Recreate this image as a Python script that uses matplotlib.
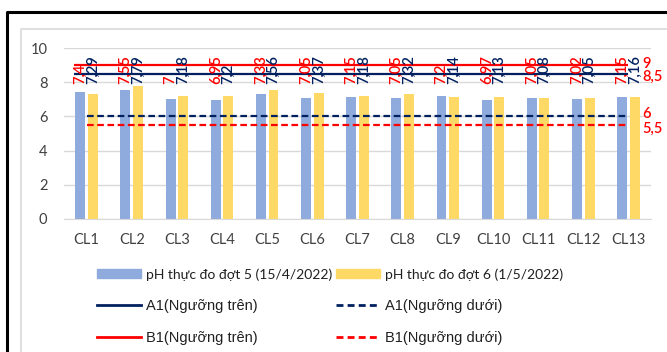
import matplotlib

matplotlib.use("Agg")
import matplotlib.pyplot as plt
import numpy as np
from matplotlib.lines import Line2D
from matplotlib.patches import Patch

plt.rcParams["font.family"] = ["Lato", "DejaVu Sans"]

# pH measurements per sampling point
stations = ["CL1", "CL2", "CL3", "CL4", "CL5", "CL6", "CL7",
            "CL8", "CL9", "CL10", "CL11", "CL12", "CL13"]
ph_round5 = [7.4, 7.55, 7.0, 6.95, 7.33, 7.05, 7.15, 7.05, 7.2, 6.97, 7.05, 7.02, 7.15]
ph_round6 = [7.29, 7.79, 7.18, 7.2, 7.56, 7.37, 7.18, 7.32, 7.14, 7.13, 7.08, 7.05, 7.16]

# regulatory limits (QCVN column A1 / B1)
a1_upper = 8.5
a1_lower = 6.0
b1_upper = 9.0
b1_lower = 5.5

label_round5 = "pH thực đo đợt 5 (15/4/2022)"
label_round6 = "pH thực đo đợt 6 (1/5/2022)"
label_a1_upper = "A1(Ngưỡng trên)"
label_a1_lower = "A1(Ngưỡng dưới)"
label_b1_upper = "B1(Ngưỡng trên)"
label_b1_lower = "B1(Ngưỡng dưới)"

BLUE = "#8FAADC"
YELLOW = "#FFD966"
NAVY = "#002060"
RED = "#FF0000"
GRID = "#D9D9D9"
TEXT = "#404040"


def fmt(v):
    return f"{v:g}".replace(".", ",")


fig = plt.figure(figsize=(6.67, 3.52), dpi=100)
ax = fig.add_axes([64 / 667, 1 - 219 / 352, 587 / 667, 171 / 352])

x = np.arange(len(stations))
bw = 0.22
off = 0.14
ax.bar(x - off, ph_round5, width=bw, color=BLUE, zorder=2)
ax.bar(x + off, ph_round6, width=bw, color=YELLOW, zorder=2)

# threshold lines across all stations
ax.hlines(b1_upper, -0.27, x[-1], color=RED, lw=1.6, zorder=3)
ax.hlines(a1_upper, -0.27, x[-1], color=NAVY, lw=1.6, zorder=3)
ax.plot(x, [a1_lower] * len(x), color=NAVY, lw=1.6, dashes=(3, 1.6), zorder=3)
ax.plot(x, [b1_lower] * len(x), color=RED, lw=1.6, dashes=(3, 1.6), zorder=3)

# limit values at the right end of each line
for val, dy in [(b1_upper, 0.5), (a1_upper, -2.5), (a1_lower, 1.5), (b1_lower, -3)]:
    ax.annotate(fmt(val), (x[-1], val), xytext=(10, dy), textcoords="offset points",
                ha="left", va="center", color=RED, fontsize=10.5,
                fontweight="semibold", annotation_clip=False)

# rotated value labels above the bars
for xi, v5, v6 in zip(x, ph_round5, ph_round6):
    ax.text(xi - off, 7.9, fmt(v5), rotation=90, ha="center", va="bottom",
            color=RED, fontsize=10.5, fontweight="semibold", zorder=4)
    ax.text(xi + off, 7.9, fmt(v6), rotation=90, ha="center", va="bottom",
            color=NAVY, fontsize=10.5, fontweight="semibold", zorder=4)

ax.set_xlim(-0.5, len(stations) - 0.5)
ax.set_ylim(0, 10)
ax.set_yticks([0, 2, 4, 6, 8, 10])
ax.set_xticks(x)
ax.set_xticklabels(stations)
ax.tick_params(length=0, labelsize=10.5, labelcolor=TEXT)
ax.tick_params(axis="y", pad=12)
ax.tick_params(axis="x", pad=10)
ax.grid(axis="y", color=GRID, lw=1, zorder=0)
for side in ["top", "right", "left"]:
    ax.spines[side].set_visible(False)
ax.spines["bottom"].set_color(GRID)

handles = [
    Patch(color=BLUE, label=label_round5),
    Line2D([], [], color=NAVY, lw=2, label=label_a1_upper),
    Line2D([], [], color=RED, lw=2, label=label_b1_upper),
    Patch(color=YELLOW, label=label_round6),
    Line2D([], [], color=NAVY, lw=2, dashes=(2.5, 1.5), label=label_a1_lower),
    Line2D([], [], color=RED, lw=2, dashes=(2.5, 1.5), label=label_b1_lower),
]
leg = fig.legend(handles=handles, ncol=2, loc="upper left",
                 bbox_to_anchor=(97 / 667, 1 - 268 / 352), frameon=False,
                 fontsize=10.5, handlelength=3.0, handleheight=0.6,
                 handletextpad=0.35, columnspacing=0.3, labelspacing=1.25,
                 borderpad=0, borderaxespad=0)
for t in leg.get_texts():
    t.set_color("#202020")
    if "thực" in t.get_text():
        t.set_fontsize(10)
    else:
        t.set_fontfamily(["Liberation Sans", "DejaVu Sans"])

# outer frames
fig.add_artist(Line2D([21 / 667, 21 / 667, 1], [0, 1 - 29 / 352, 1 - 29 / 352],
                      color=GRID, lw=1.2, transform=fig.transFigure))
fig.add_artist(Line2D([6.5 / 667, 6.5 / 667, 1], [0, 1 - 12 / 352, 1 - 12 / 352],
                      color="black", lw=2.2, transform=fig.transFigure))

fig.savefig("out.png", dpi=100)
